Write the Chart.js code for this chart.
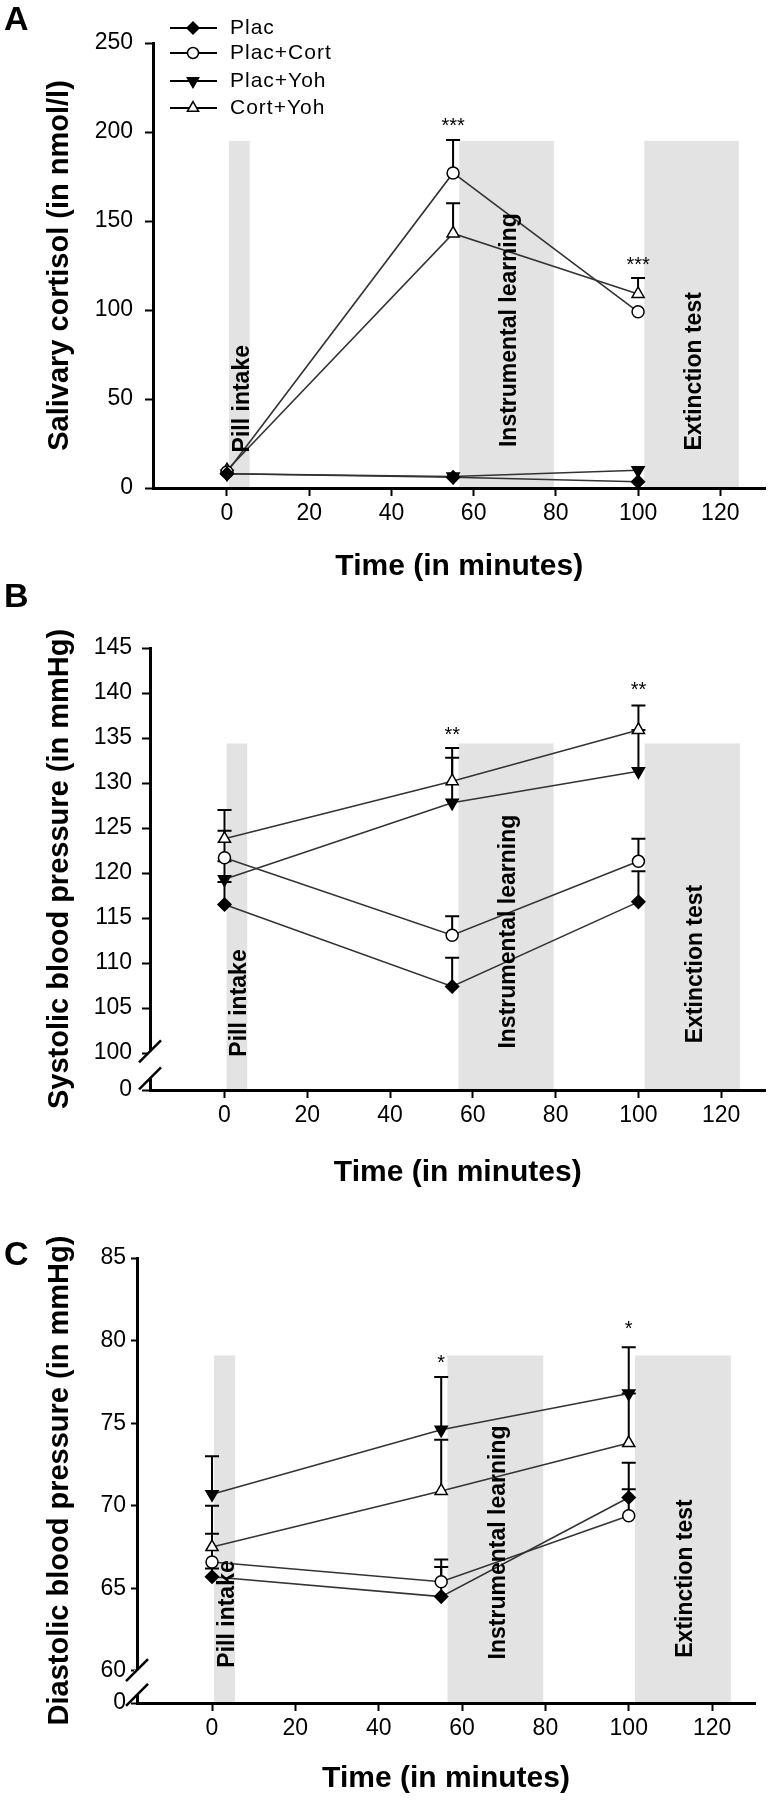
<!DOCTYPE html>
<html>
<head>
<meta charset="utf-8">
<title>Cortisol and blood pressure over time</title>
<script src="https://cdn.jsdelivr.net/npm/chart.js@4.4.1/dist/chart.umd.min.js"></script>
<style>
  html, body { margin: 0; padding: 0; background: #fff; }
  #wrap { position: relative; width: 774px; height: 1800px; }
  .panel { position: absolute; left: 0; width: 774px; }
  .letter { position: absolute; left: 4px; line-height: 34px; font: bold 34px 'Liberation Sans', Arial, sans-serif; }
</style>
</head>
<body>
<div id="wrap">
  <div class="panel" style="top:0;height:590px"><canvas id="chartA"></canvas></div>
  <div class="panel" style="top:590px;height:610px"><canvas id="chartB"></canvas></div>
  <div class="panel" style="top:1200px;height:600px"><canvas id="chartC"></canvas></div>
  <div class="letter" style="top:-1px">A</div>
  <div class="letter" style="top:576px">B</div>
  <div class="letter" style="top:1234px">C</div>
</div>
<script>
const FONT = "'Liberation Sans', Arial, sans-serif";

// shared
const times = [0, 55, 100];
const groups = ['Plac', 'Plac+Cort', 'Plac+Yoh', 'Cort+Yoh'];
const xTicks = [0, 20, 40, 60, 80, 100, 120];
const phases = [[0.5, 5.5], [56.5, 79.5], [101.5, 124.5]];
const phaseNames = ['Pill intake', 'Instrumental learning', 'Extinction test'];

// A: salivary cortisol
const cortPlac = [8, 6, 3.5];
const cortPlacCort = [9, 177, 99];
const cortPlacYoh = [8, 6.5, 10];
const cortCortYoh = [10, 143, 109];
const cortPlacErr = [0, 0, 0];
const cortPlacCortErr = [0, 18.5, 0];
const cortPlacYohErr = [0, 0, 0];
const cortCortYohErr = [0, 17, 9];
const cortTicks = [0, 50, 100, 150, 200, 250];
const cortStars = [[55, 203, '***'], [100, 125, '***']];

// B: systolic blood pressure
const sysPlac = [116.5, 107.4, 116.8];
const sysPlacCort = [121.7, 113.1, 121.3];
const sysPlacYoh = [119.3, 127.8, 131.3];
const sysCortYoh = [123.8, 130.2, 135.9];
const sysPlacErr = [2.5, 3.2, 3.4];
const sysPlacCortErr = [3.0, 2.1, 2.5];
const sysPlacYohErr = [2, 5.0, 4.6];
const sysCortYohErr = [3.2, 3.7, 2.7];
const sysTicks = [100, 105, 110, 115, 120, 125, 130, 135, 140, 145];
const sysStars = [[55, 135.3, '**'], [100, 140.3, '**']];

// C: diastolic blood pressure
const diaPlac = [65.7, 64.5, 70.5];
const diaPlacCort = [66.6, 65.4, 69.4];
const diaPlacYoh = [70.7, 74.6, 76.8];
const diaCortYoh = [67.5, 70.9, 73.8];
const diaPlacErr = [0.5, 1.8, 2.1];
const diaPlacCortErr = [1.7, 1.35, 1.6];
const diaPlacYohErr = [2.3, 3.2, 2.8];
const diaCortYohErr = [2.5, 3.1, 3.0];
const diaTicks = [60, 65, 70, 75, 80, 85];
const diaStars = [[55, 78.6, '*'], [100, 80.7, '*']];

const markers = [
  { pointStyle: 'rectRot', radius: 6.5, fill: '#000', rotation: 0 },
  { pointStyle: 'circle', radius: 6, fill: '#fff', rotation: 0 },
  { pointStyle: 'triangle', radius: 7, fill: '#000', rotation: 180 },
  { pointStyle: 'triangle', radius: 7, fill: '#fff', rotation: 0 }
];

const decor = {
  id: 'decor',
  beforeDatasetsDraw(chart, args, o) {
    const { ctx, chartArea, scales: { x, y } } = chart;
    ctx.save();
    ctx.fillStyle = '#e3e3e3';
    const yt = y.getPixelForValue(o.bandTop);
    phases.forEach(p => {
      const x0 = x.getPixelForValue(p[0]), x1 = x.getPixelForValue(p[1]);
      ctx.fillRect(x0, yt, x1 - x0, chartArea.bottom - yt - 1);
    });
    // error bars (upper half only)
    ctx.strokeStyle = '#000';
    ctx.lineWidth = 2;
    chart.data.datasets.forEach((ds, di) => {
      const meta = chart.getDatasetMeta(di);
      ds.errors.forEach((e, i) => {
        if (!e) return;
        const pt = meta.data[i];
        const top = y.getPixelForValue(ds.data[i].y + e);
        ctx.beginPath();
        ctx.moveTo(pt.x, pt.y);
        ctx.lineTo(pt.x, top);
        ctx.moveTo(pt.x - 7, top);
        ctx.lineTo(pt.x + 7, top);
        ctx.stroke();
      });
    });
    ctx.restore();
  },
  afterDatasetsDraw(chart, args, o) {
    const { ctx, scales: { x, y } } = chart;
    ctx.save();
    ctx.fillStyle = '#000';
    ctx.font = 'bold 23px ' + FONT;
    ctx.textAlign = 'left';
    ctx.textBaseline = 'middle';
    phases.forEach((p, i) => {
      const cx = (x.getPixelForValue(p[0]) + x.getPixelForValue(p[1])) / 2 + 3;
      ctx.save();
      ctx.translate(cx, y.getPixelForValue(o.labelBase[i]));
      ctx.rotate(-Math.PI / 2);
      ctx.fillText(phaseNames[i], 0, 0);
      ctx.restore();
    });
    ctx.font = '20px ' + FONT;
    ctx.textAlign = 'center';
    o.stars.forEach(s => {
      ctx.fillText(s[2], x.getPixelForValue(s[0]), y.getPixelForValue(s[1]));
    });
    ctx.restore();
  },
  afterDraw(chart, args, o) {
    const { ctx, chartArea, scales: { y } } = chart;
    ctx.save();
    if (o.breakAt) {
      const l = chartArea.left;
      const y0 = y.getPixelForValue(o.breakAt[0]);
      const y1 = y.getPixelForValue(o.breakAt[1]);
      ctx.fillStyle = '#fff';
      ctx.fillRect(l - 3, y0, 6, y1 - y0);
      ctx.strokeStyle = '#000';
      ctx.lineWidth = 2.5;
      [y0, y1].forEach(yy => {
        ctx.beginPath();
        ctx.moveTo(l - 11, yy + 11);
        ctx.lineTo(l + 11, yy - 11);
        ctx.stroke();
      });
    }
    if (o.legend) {
      const rows = [28, 53, 81, 108];
      ctx.font = '21px ' + FONT;
      ctx.letterSpacing = '1px';
      ctx.textBaseline = 'middle';
      chart.data.datasets.forEach((ds, i) => {
        const yy = rows[i];
        ctx.strokeStyle = '#000';
        ctx.lineWidth = 2;
        ctx.beginPath();
        ctx.moveTo(170, yy);
        ctx.lineTo(217, yy);
        ctx.stroke();
        ctx.fillStyle = markers[i].fill;
        ctx.lineWidth = 1.5;
        Chart.helpers.drawPoint(ctx, {
          pointStyle: markers[i].pointStyle, rotation: markers[i].rotation,
          radius: markers[i].radius - 0.5, borderWidth: 1.5
        }, 193, yy);
        ctx.fillStyle = '#000';
        ctx.fillText(ds.label, 230, yy);
      });
    }
    ctx.restore();
  }
};

function buildChart(id, c) {
  const datasets = c.values.map((vals, i) => ({
    label: groups[i],
    data: times.map((t, k) => ({ x: t, y: vals[k] })),
    errors: c.errors[i],
    borderColor: '#333',
    borderWidth: 1.6,
    tension: 0,
    pointStyle: markers[i].pointStyle,
    pointRotation: markers[i].rotation,
    pointRadius: markers[i].radius,
    pointBackgroundColor: markers[i].fill,
    pointBorderColor: '#000',
    pointBorderWidth: 1.5
  }));
  const yTickValues = c.yMin < c.yTicks[0] ? [c.yMin].concat(c.yTicks) : c.yTicks;
  return new Chart(document.getElementById(id), {
    type: 'line',
    data: { datasets },
    plugins: [decor],
    options: {
      animation: false,
      responsive: true,
      maintainAspectRatio: false,
      layout: { padding: { top: c.padTop, right: c.padRight, left: 0, bottom: 0 } },
      plugins: {
        legend: { display: false },
        tooltip: { enabled: false },
        decor: {
          bandTop: c.bandTop, labelBase: c.labelBase, stars: c.stars,
          breakAt: c.breakAt, legend: c.legend
        }
      },
      scales: {
        x: {
          type: 'linear', min: -18, max: c.xMax,
          afterBuildTicks: s => { s.ticks = xTicks.map(v => ({ value: v })); },
          afterFit: s => { s.height = c.xHeight; },
          grid: { drawOnChartArea: false, tickLength: 8, tickWidth: 2, tickColor: '#000' },
          border: { color: '#000', width: 3 },
          ticks: { color: '#000', font: { family: FONT, size: 23 }, padding: 4, maxRotation: 0, autoSkip: false },
          title: {
            display: true, text: 'Time (in minutes)', color: '#000',
            font: { family: FONT, size: 30, weight: 'bold' }, padding: { top: 0, bottom: c.xTitlePad }
          }
        },
        y: {
          type: 'linear', min: c.yMin, max: c.yMax,
          afterBuildTicks: s => { s.ticks = yTickValues.map(v => ({ value: v })); },
          afterFit: s => { s.width = c.yWidth; },
          grid: { drawOnChartArea: false, tickLength: c.yTickLen, tickWidth: 2, tickColor: '#000' },
          border: { color: '#000', width: 3 },
          ticks: {
            color: '#000', font: { family: FONT, size: 23 }, padding: c.yTickPad, autoSkip: false,
            callback: v => (v < c.yTicks[0] ? '0' : v)
          },
          title: {
            display: true, text: c.yTitle, color: '#000',
            font: { family: FONT, size: 29, weight: 'bold' }, padding: { top: 43, bottom: 0 }
          }
        }
      }
    }
  });
}

buildChart('chartA', {
  values: [cortPlac, cortPlacCort, cortPlacYoh, cortCortYoh],
  errors: [cortPlacErr, cortPlacCortErr, cortPlacYohErr, cortCortYohErr],
  yMin: 0, yMax: 250, yTicks: cortTicks, yTitle: 'Salivary cortisol (in nmol/l)',
  bandTop: 195, labelBase: [20, 23, 21], stars: cortStars, breakAt: null, legend: true,
  padTop: 43, padRight: 2, xMax: 131, xHeight: 102, xTitlePad: 5,
  yWidth: 153, yTickLen: 8, yTickPad: 12
});

buildChart('chartB', {
  values: [sysPlac, sysPlacCort, sysPlacYoh, sysCortYoh],
  errors: [sysPlacErr, sysPlacCortErr, sysPlacYohErr, sysCortYohErr],
  yMin: 95.9, yMax: 145, yTicks: sysTicks, yTitle: 'Systolic blood pressure (in mmHg)',
  bandTop: 134.4, labelBase: [99.6, 100.5, 101.1], stars: sysStars, breakAt: [100.2, 97.2], legend: false,
  padTop: 58, padRight: 4, xMax: 130.7, xHeight: 110, xTitlePad: 9,
  yWidth: 150, yTickLen: 8, yTickPad: 10
});

buildChart('chartC', {
  values: [diaPlac, diaPlacCort, diaPlacYoh, diaCortYoh],
  errors: [diaPlacErr, diaPlacCortErr, diaPlacYohErr, diaCortYohErr],
  yMin: 58.06, yMax: 85, yTicks: diaTicks, yTitle: 'Diastolic blood pressure (in mmHg)',
  bandTop: 79.1, labelBase: [60.2, 60.7, 60.8], stars: diaStars, breakAt: [60.05, 58.55], legend: false,
  padTop: 58, padRight: 19, xMax: 130.3, xHeight: 97, xTitlePad: 3,
  yWidth: 137, yTickLen: 6, yTickPad: 5
});
</script>
</body>
</html>
